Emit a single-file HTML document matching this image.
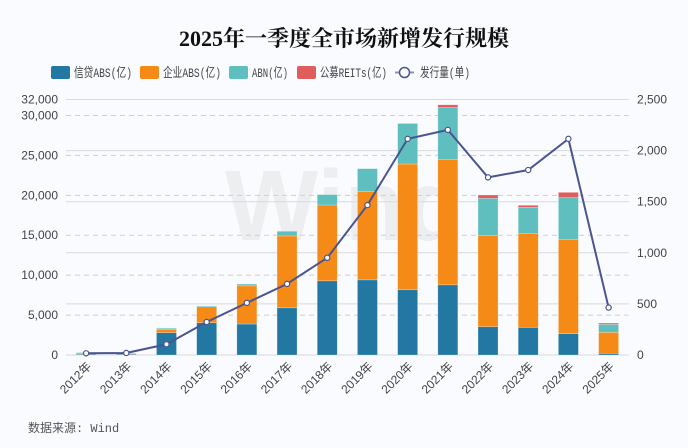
<!DOCTYPE html>
<html><head><meta charset="utf-8">
<style>
html,body{margin:0;padding:0;background:#f9fbfe;}
svg{display:block;font-family:"Liberation Sans","Noto Sans CJK SC",sans-serif;}
</style></head>
<body>
<svg id="chart" width="688" height="448">
<rect width="688" height="448" fill="#f9fbfe"/>
<text x="344" y="46" text-anchor="middle" font-size="22" font-weight="bold" fill="#111" font-family="'Liberation Serif','Noto Serif CJK SC',serif">2025年一季度全市场新增发行规模</text>
<text x="345" y="240" text-anchor="middle" font-size="100" font-weight="bold" fill="#eceef0" textLength="240" lengthAdjust="spacingAndGlyphs">Wind</text>
<g id="grid"></g>
<g id="bars"></g>
<g id="line"></g>
<g id="axes"></g>
<g id="legend" font-size="13" fill="#444" font-family="'Liberation Mono','Noto Sans CJK SC',monospace">
 <rect x="51" y="66" width="19" height="13" rx="2" fill="#2277a3"/>
 <text x="74" y="77" textLength="58" lengthAdjust="spacingAndGlyphs">信贷ABS(亿)</text>
 <rect x="140" y="66" width="19" height="13" rx="2" fill="#f58a17"/>
 <text x="163" y="77" textLength="58" lengthAdjust="spacingAndGlyphs">企业ABS(亿)</text>
 <rect x="229" y="66" width="19" height="13" rx="2" fill="#5fbfbf"/>
 <text x="252" y="77" textLength="36" lengthAdjust="spacingAndGlyphs">ABN(亿)</text>
 <rect x="297" y="66" width="19" height="13" rx="2" fill="#e05d5d"/>
 <text x="320" y="77" textLength="67" lengthAdjust="spacingAndGlyphs">公募REITs(亿)</text>
 <line x1="395" y1="72.5" x2="414" y2="72.5" stroke="#8b93bd" stroke-width="2"/>
 <circle cx="404.5" cy="72.5" r="5" fill="#fff" stroke="#4a5590" stroke-width="1.5"/>
 <text x="420" y="77" textLength="50" lengthAdjust="spacingAndGlyphs">发行量(单)</text>
</g>
<text x="28" y="432" font-size="12" fill="#555" font-family="'Liberation Mono','Noto Sans CJK SC',monospace">数据来源: Wind</text>
</svg>
<script>
const categories=["2012年","2013年","2014年","2015年","2016年","2017年","2018年","2019年","2020年","2021年","2022年","2023年","2024年","2025年"];
const creditAbs=[100,100,2800,4040,3880,5910,9290,9410,8170,8790,3540,3460,2670,210];
const corpAbs=[50,60,400,2000,4780,9000,9500,11050,15750,15710,11420,11750,11790,2630];
const abn=[150,80,150,110,220,590,1300,2880,5080,6500,4660,3290,5250,1000];
const reits=[0,0,0,0,0,0,0,0,0,340,420,250,660,160];
const counts=[17,20,105,323,510,696,951,1467,2115,2203,1738,1810,2115,464];
const leftTicks=[0,5000,10000,15000,20000,25000,30000,32000];
const rightTicks=[0,500,1000,1500,2000,2500];

const NS="http://www.w3.org/2000/svg";
const X0=66,X1=628.7,Y0=355,YT=99.5,LMAX=32000,RMAX=2500;
const band=(X1-X0)/categories.length;
const xc=i=>X0+band*(i+0.5);
const yl=v=>Y0-(v/LMAX)*(Y0-YT);
const yr=v=>Y0-(v/RMAX)*(Y0-YT);
function mk(tag,attrs,parent){const e=document.createElementNS(NS,tag);for(const k in attrs)e.setAttribute(k,attrs[k]);parent.appendChild(e);return e;}
const grid=document.getElementById('grid'),bars=document.getElementById('bars'),line=document.getElementById('line'),axes=document.getElementById('axes');
const fmt=v=>v.toLocaleString('en-US');
leftTicks.forEach(t=>{
  if(t>0&&t<LMAX){const g=mk('line',{x1:X0,x2:X1,y1:yl(t),y2:yl(t),stroke:'#cfcfcf','stroke-dasharray':'5,4'},grid);
  
  }
  const tx=mk('text',{x:58,y:yl(t)+4,'text-anchor':'end','font-size':12,fill:'#444'},axes);tx.textContent=fmt(t);
  
  
});
rightTicks.forEach(t=>{
  const g=mk('line',{x1:X0,x2:X1,y1:yr(t),y2:yr(t),stroke:'#dadada'},grid);
  
  
  const tx=mk('text',{x:637,y:yr(t)+4,'font-size':12,fill:'#444'},axes);tx.textContent=fmt(t);
  
  
});
const series=[[creditAbs,'#2277a3','credit-abs'],[corpAbs,'#f58a17','corp-abs'],[abn,'#5fbfbf','abn'],[reits,'#e05d5d','reits']];
categories.forEach((c,i)=>{
  let acc=0;
  series.forEach(([arr,col,nm])=>{
    const v=arr[i];if(v<=0)return;
    const y1=yl(acc),y2=yl(acc+v);acc+=v;
    const r=mk('rect',{x:xc(i)-10,y:y2,width:20,height:y1-y2,fill:col,stroke:'rgba(255,255,255,0.4)','stroke-width':0.6},bars);
    
    
  });
  const tx=mk('text',{x:0,y:0,'font-size':12,fill:'#444','text-anchor':'end',transform:`translate(${xc(i)+6},${Y0+12}) rotate(-45)`},axes);
  tx.textContent=c;
  
  
});
const pts=counts.map((v,i)=>xc(i)+','+yr(v)).join(' ');
const pl=mk('polyline',{points:pts,fill:'none',stroke:'#4a5590','stroke-width':2},line);


counts.forEach((v,i)=>{
  const c=mk('circle',{cx:xc(i),cy:yr(v),r:2.6,fill:'#fff',stroke:'#4a5590','stroke-width':1.2},line);
  
  
});
</script>
</body></html>
